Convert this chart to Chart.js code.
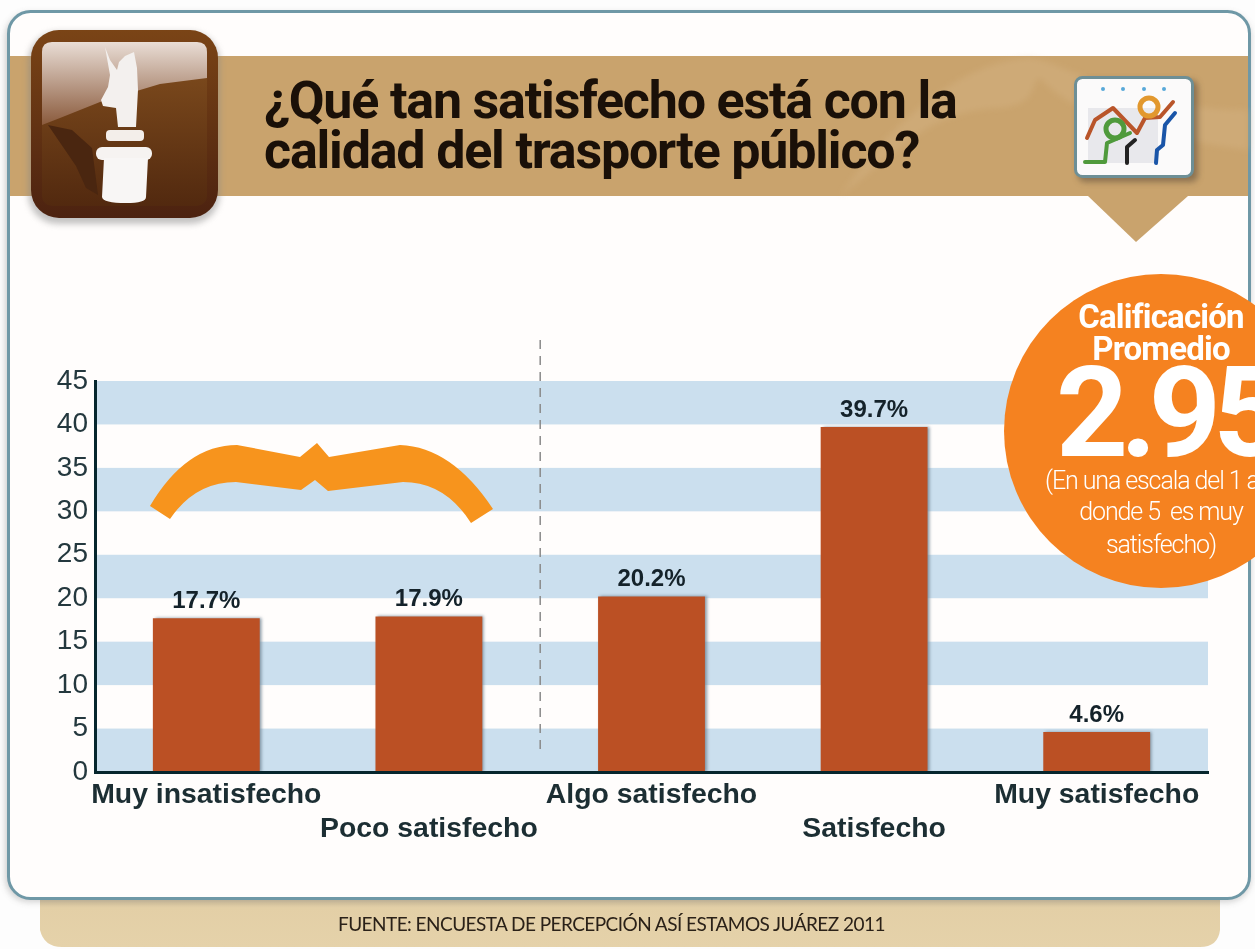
<!DOCTYPE html>
<html lang="es">
<head>
<meta charset="utf-8">
<title>Satisfacción con el trasporte público</title>
<script src="https://cdn.jsdelivr.net/npm/chart.js@4"></script>
<style>
  html, body { margin: 0; padding: 0; background: #fdfdfd; overflow: hidden; }
  #lienzo { position: relative; width: 1255px; height: 949px; overflow: hidden; }
  #fondo, #frente { position: absolute; left: 0; top: 0; }
  #fondo { z-index: 0; }
  #Grafico_Barras { position: absolute; left: 0; top: 0; z-index: 1; }
  #frente { z-index: 2; }
  .txt { position: absolute; z-index: 3; white-space: nowrap; }
  #titulo { left: 264px; top: 76px; font: 700 52px/50px Roboto, sans-serif; color: #1a1008; letter-spacing: -1.2px; }
  #fuente { left: 338px; top: 913px; font: 400 19px/22px Lato, sans-serif; color: #2a2118; letter-spacing: -0.55px; }
  .cal { color: #fff; font-family: Roboto, sans-serif; text-align: center; }
  #cal1 { left: 1061px; width: 200px; top: 297px; font-size: 33px; line-height: 40px; font-weight: 700; letter-spacing: -0.8px; }
  #cal2 { left: 1061px; width: 200px; top: 329px; font-size: 33px; line-height: 40px; font-weight: 700; letter-spacing: -0.8px; }
  #cal3 { left: 1056px; top: 348px; font-size: 126px; line-height: 130px; font-weight: 700; letter-spacing: -8px; text-align: left; }
  #cal4 { left: 1045px; top: 465px; font-size: 25px; line-height: 32px; font-weight: 300; letter-spacing: -1.1px; text-align: left; }
  #cal5 { left: 1061px; width: 200px; top: 496px; font-size: 25px; line-height: 32px; font-weight: 300; letter-spacing: -1.1px; }
  #cal6 { left: 1061px; width: 200px; top: 529px; font-size: 25px; line-height: 32px; font-weight: 300; letter-spacing: -1.1px; }
</style>
</head>
<body>
<div id="lienzo">
  <svg id="fondo" width="1255" height="949" viewBox="0 0 1255 949">
    <defs>
      <linearGradient id="gradMarco" x1="0" y1="0" x2="0" y2="1">
        <stop offset="0" stop-color="#7a4416"/><stop offset="1" stop-color="#4c2210"/>
      </linearGradient>
      <linearGradient id="gradPanel" x1="0" y1="0" x2="0" y2="1">
        <stop offset="0" stop-color="#84501f"/><stop offset="1" stop-color="#52290f"/>
      </linearGradient>
      <linearGradient id="gradBrillo" x1="0" y1="0" x2="0" y2="1">
        <stop offset="0" stop-color="#e9ddd5"/><stop offset="1" stop-color="#8a5a3c"/>
      </linearGradient>
      <linearGradient id="gradPie" x1="0" y1="0" x2="0" y2="1">
        <stop offset="0" stop-color="#b9a27c"/><stop offset="0.3" stop-color="#e3cfa6"/><stop offset="1" stop-color="#e5d2aa"/>
      </linearGradient>
      <filter id="sombra" x="-10%" y="-10%" width="120%" height="120%">
        <feGaussianBlur stdDeviation="3"/>
      </filter>
    </defs>
    <!-- pie y marco -->
    <path d="M40 890 H1220 V930 Q1218 947 1200 947 H62 Q44 947 40 930 Z" fill="url(#gradPie)"/>
    <rect x="5" y="13" width="1246" height="889" rx="24" fill="#9a9a9a" opacity="0.45" filter="url(#sombra)"/>
    <rect x="8.5" y="11.5" width="1241" height="887" rx="22" fill="#fffdfc" stroke="#6f98a6" stroke-width="3"/>
    <!-- banda del titulo -->
    <rect x="10" y="56" width="1238" height="140" fill="#c9a36d"/>
    <path d="M840 196 C900 150 930 110 1000 108 C1040 105 1030 80 1040 78 C1060 100 1100 130 1248 150 V110 C1130 110 1060 60 1030 58 C970 60 900 110 840 196 Z" fill="#d6b587" opacity="0.4" filter="url(#sombra)"/>
    <path d="M1088 196 L1136 242 L1188 196 Z" fill="#c9a36d"/>
    <!-- icono monumento -->
    <rect x="28" y="32" width="192" height="192" rx="30" fill="#888" opacity="0.5" filter="url(#sombra)"/>
    <rect x="31" y="30" width="187" height="188" rx="28" fill="url(#gradMarco)"/>
    <rect x="42" y="42" width="165" height="164" rx="10" fill="url(#gradPanel)"/>
    <path d="M52 42 H197 Q207 42 207 52 V78 L160 84 L100 102 L60 118 L42 125 V52 Q42 42 52 42 Z" fill="url(#gradBrillo)"/>
    <path d="M48 125 L72 130 L92 148 L98 195 L86 188 L76 166 Z" fill="#4a2610"/>
    <path d="M105 47 L110 60 L117 70 L119 62 L125 56 L134 52 L137 68 L138 90 L136 127 L118 127 L116 108 L103 106 L101 100 L108 87 L110 75 Z" fill="#f3f0ee"/>
    <rect x="106" y="130" width="38" height="11" rx="4" fill="#f3eeea"/>
    <rect x="96" y="147" width="56" height="13" rx="6" fill="#f6f3f1"/>
    <path d="M104 158 H148 L146 197 Q146 203 126 203 Q103 203 102 197 Z" fill="#f8f6f5"/>
    <!-- icono de lineas -->
    <rect x="1078" y="80" width="120" height="102" rx="7" fill="#5a4a38" opacity="0.55" filter="url(#sombra)"/>
    <rect x="1075.5" y="77.5" width="117" height="99" rx="7" fill="#fbfafa" stroke="#6d8f96" stroke-width="3"/>
    <rect x="1088" y="108" width="70" height="55" fill="#e8e8ec"/>
    <g fill="none" stroke-width="4" stroke-linejoin="round" stroke-linecap="round">
      <path d="M1087 138 L1095 120 L1113 108 L1137 133 L1145 118 L1160 117 L1173 102" stroke="#b9552a"/>
      <circle cx="1149" cy="107" r="9" stroke="#e2982e" stroke-width="5"/>
      <circle cx="1115" cy="129" r="9" stroke="#4f9a3c" stroke-width="5"/>
      <path d="M1085 162 H1105 L1107 143 L1130 133" stroke="#4f9a3c"/>
      <path d="M1127 163 V147 L1135 140" stroke="#222"/>
      <path d="M1156 163 L1157 150 L1163 145 L1165 125 L1175 113" stroke="#1a55a8"/>
    </g>
    <g fill="#58a8d8">
      <circle cx="1103" cy="89" r="2"/><circle cx="1123" cy="89" r="2"/><circle cx="1144" cy="89" r="2"/><circle cx="1164" cy="89" r="2"/>
    </g>
  </svg>

  <canvas id="Grafico_Barras" width="1255" height="949"></canvas>

  <svg id="frente" width="1255" height="949" viewBox="0 0 1255 949">
    <!-- llave naranja sobre las dos primeras barras -->
    <path d="M150 506 Q186 445 237 445 L300 457 L317 443 L329 457 L400 445 Q452 447 493 509 L471 523 Q445 482 403 482 L328 491 L315 480 L301 490 L236 482 Q195 482 170 519 Z" fill="#f7941d"/>
    <circle cx="1161" cy="431" r="157" fill="#f58220"/>
  </svg>

  <div id="titulo" class="txt">¿Qué tan satisfecho está con la<br>calidad del trasporte público?</div>
  <div id="fuente" class="txt">FUENTE: ENCUESTA DE PERCEPCIÓN ASÍ ESTAMOS JUÁREZ 2011</div>
  <div id="cal1" class="txt cal">Calificación</div>
  <div id="cal2" class="txt cal">Promedio</div>
  <div id="cal3" class="txt cal">2.95</div>
  <div id="cal4" class="txt cal">(En una escala del 1 al</div>
  <div id="cal5" class="txt cal">donde 5&nbsp; es muy</div>
  <div id="cal6" class="txt cal">satisfecho)</div>
</div>

<script>
const categorias = ["Muy insatisfecho", "Poco satisfecho", "Algo satisfecho", "Satisfecho", "Muy satisfecho"];
const filaEtiqueta = [0, 1, 0, 1, 0];
const valores = [17.7, 17.9, 20.2, 39.7, 4.6];
const inicioBandas = [0, 10, 20, 30, 40];
const anchoBanda = 5;

// Bandas azules detras de las barras
const pluginBandas = {
  id: "bandas",
  beforeDraw(chart) {
    const { ctx, chartArea, scales } = chart;
    ctx.save();
    ctx.fillStyle = "#cbdfee";
    inicioBandas.forEach((v) => {
      const arriba = scales.y.getPixelForValue(v + anchoBanda);
      const abajo = scales.y.getPixelForValue(v);
      ctx.fillRect(chartArea.left, arriba, chartArea.right - chartArea.left, abajo - arriba);
    });
    ctx.restore();
  },
  beforeDatasetsDraw(chart) {
    const ctx = chart.ctx;
    ctx.save();
    ctx.shadowColor = "rgba(110,130,145,0.8)";
    ctx.shadowBlur = 3;
    ctx.shadowOffsetX = 2;
  },
  afterDatasetsDraw(chart) {
    chart.ctx.restore();
    const { ctx, scales, chartArea } = chart;
    // Linea punteada entre Poco y Algo satisfecho
    const xLinea = (scales.x.getPixelForValue(1) + scales.x.getPixelForValue(2)) / 2;
    ctx.save();
    ctx.strokeStyle = "#8a8a8a";
    ctx.lineWidth = 1.5;
    ctx.setLineDash([9, 7]);
    ctx.beginPath();
    ctx.moveTo(xLinea, 340);
    ctx.lineTo(xLinea, chartArea.bottom - 17);
    ctx.stroke();
    ctx.restore();
    // Porcentajes sobre cada barra
    ctx.save();
    ctx.font = "bold 24px 'Liberation Sans'";
    ctx.fillStyle = "#14222a";
    ctx.textAlign = "center";
    ctx.textBaseline = "middle";
    valores.forEach((v, i) => {
      ctx.fillText(v.toFixed(1) + "%", scales.x.getPixelForValue(i), scales.y.getPixelForValue(v) - 17);
    });
    ctx.restore();
  }
};

document.addEventListener("DOMContentLoaded", () => {
  new Chart(document.getElementById("Grafico_Barras").getContext("2d"), {
    type: "bar",
    data: {
      labels: categorias.map((c, i) => (filaEtiqueta[i] ? ["", c] : [c])),
      datasets: [{
        data: valores,
        backgroundColor: "#bb5024",
        barPercentage: 0.48,
        categoryPercentage: 1
      }]
    },
    plugins: [pluginBandas],
    options: {
      responsive: false,
      animation: false,
      layout: { padding: { top: 381, right: 47, left: 0, bottom: 0 } },
      plugins: { legend: { display: false }, tooltip: { enabled: false } },
      scales: {
        x: {
          grid: { display: false, drawTicks: false },
          border: { display: true, color: "#06262d", width: 3, z: 1 },
          afterFit: (s) => { s.height = 177; },
          ticks: {
            autoSkip: false,
            maxRotation: 0,
            padding: 7,
            color: "#1c2e33",
            font: { family: "'Liberation Sans'", size: 28.4, weight: "bold", lineHeight: 1.17 }
          }
        },
        y: {
          min: 0,
          max: 45,
          grid: { display: false, drawTicks: false },
          border: { display: true, color: "#06262d", width: 3, z: 1 },
          afterFit: (s) => { s.width = 95; },
          ticks: {
            stepSize: 5,
            padding: 7,
            color: "#24383e",
            font: { family: "'Liberation Sans'", size: 28 }
          }
        }
      }
    }
  });
});
</script>
</body>
</html>
